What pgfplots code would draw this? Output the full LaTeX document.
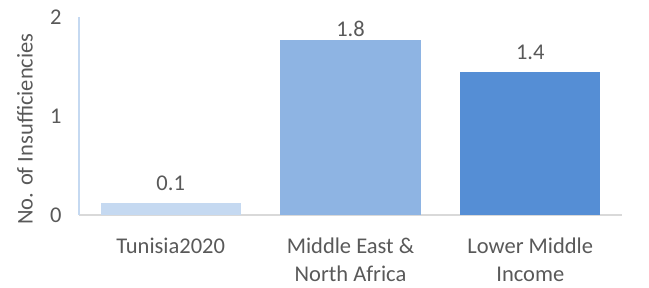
\documentclass[border=0pt]{standalone}
\usepackage{fontspec}
\setmainfont{Carlito}
\usepackage{pgfplots}
\pgfplotsset{compat=1.18}
\definecolor{txt}{RGB}{89,89,89}
\definecolor{c1}{RGB}{197,217,241}
\definecolor{c2}{RGB}{142,180,227}
\definecolor{c3}{RGB}{85,142,213}
\definecolor{axgrey}{RGB}{217,217,217}
\newcommand{\cf}{\fontsize{22.5bp}{28bp}\selectfont}
\begin{document}
\begin{tikzpicture}
\path[use as bounding box] (0,0) rectangle (649bp,288bp);
\begin{axis}[
  at={(79bp,73bp)}, anchor=south west,
  scale only axis, width=543bp, height=198bp,
  xmin=-0.51, xmax=2.51, ymin=0, ymax=2,
  axis lines*=left,
  x axis line style={axgrey, line width=1.5bp},
  y axis line style={c1, line width=1.5bp},
  major tick length=0pt,
  xtick={0,1,2}, ytick={0,1,2},
  xticklabels={Tunisia2020, {Middle East \&\\North Africa}, {Lower Middle\\Income}},
  xticklabel style={align=center, font=\cf, text=txt, yshift=-19bp},
  yticklabel style={font=\cf, text=txt, xshift=-14bp},
  /pgf/number format/assume math mode=true,
  ylabel={No. of Insufficiencies},
  ylabel style={font=\cf, text=txt, at={(axis description cs:-0.0994,0.434)}, anchor=center, rotate=0},
  ybar, bar width=0.78, bar shift=0pt,
  nodes near coords,
  nodes near coords style={font=\cf, text=txt, /pgf/number format/fixed, /pgf/number format/precision=1, /pgf/number format/fixed zerofill, /pgf/number format/assume math mode=true},
  clip=false,
]
\addplot[fill=c1, draw=none, nodes near coords style={yshift=9bp}] coordinates {(0,0.12)};
\addplot[fill=c2, draw=none, nodes near coords style={yshift=0bp}] coordinates {(1,1.77)};
\addplot[fill=c3, draw=none, nodes near coords style={yshift=9bp}] coordinates {(2,1.44)};
\end{axis}
\end{tikzpicture}
\end{document}
